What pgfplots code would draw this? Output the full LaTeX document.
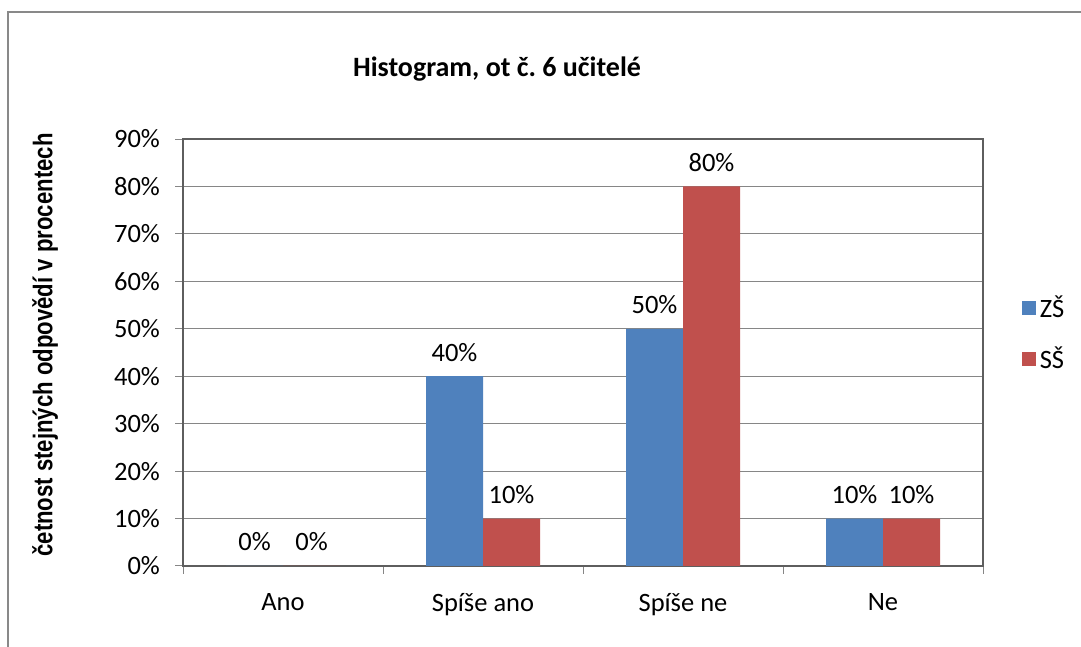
\documentclass[border=0pt]{standalone}
\usepackage{fontspec}
\setmainfont{Carlito}
\newfontfamily\narrowfont[FakeStretch=0.82]{Liberation Sans}
\usepackage{pgfplots}
\pgfplotsset{compat=1.18}
\definecolor{zsblue}{HTML}{4F81BD}
\definecolor{ssred}{HTML}{C0504D}
\definecolor{framegray}{HTML}{898989}
\definecolor{gridgray}{HTML}{868686}
\frenchspacing
\begin{document}
\begin{tikzpicture}
\useasboundingbox (0,0) rectangle (540.5pt,323.5pt);
\draw[framegray, line width=1pt] (4pt,0) -- (4pt,317.5pt) -- (540.5pt,317.5pt);
\node[font=\fontsize{14}{16}\selectfont\bfseries, anchor=base] at (248.5pt,285pt) {Histogram, ot č.\ 6 učitelé};
\node[font=\fontsize{13.5}{15}\selectfont\narrowfont\bfseries, rotate=90] at (22.5pt,151pt) {četnost stejných odpovědí v procentech};
\begin{axis}[
  at={(91.5pt,40.5pt)}, anchor=south west,
  scale only axis, width=400pt, height=213.5pt,
  xmin=-0.5, xmax=3.5, ymin=0, ymax=90,
  ybar=0pt, bar width=28.5pt,
  ytick={0,10,...,90},
  yticklabel={\pgfmathprintnumber{\tick}\%},
  /pgf/number format/assume math mode=true,
  xtick={0,1,2,3},
  xticklabels={Ano, Spíše ano, Spíše ne, Ne},
  minor xtick={-0.5,0.5,1.5,2.5,3.5},
  major x tick style={draw=none},
  xtick pos=bottom, ytick pos=left,
  tick align=outside,
  major tick length=4pt, minor tick length=4pt,
  tick style={gridgray, line width=0.5pt},
  minor x tick style={gridgray, line width=0.5pt},
  ymajorgrids, grid style={gridgray, line width=0.5pt},
  axis line style={gridgray!70!black, line width=0.6pt},
  ticklabel style={font=\fontsize{13.25}{15}\selectfont},
  xticklabel style={yshift=-6pt},
  yticklabel style={xshift=-4pt},
  nodes near coords={\pgfmathprintnumber{\pgfplotspointmeta}\%},
  nodes near coords style={font=\fontsize{13.25}{15}\selectfont, anchor=base, yshift=7.5pt, text=black},
  legend style={at={(1.048,0.5445)}, anchor=west, draw=none, fill=none,
     font=\fontsize{13.25}{15}\selectfont, row sep=9pt, inner sep=0pt},
  legend cell align=left,
  legend image code/.code={\fill[#1] (0pt,-3.5pt) rectangle (7pt,3.5pt);},
]
\addplot[fill=zsblue, draw=none] coordinates {(0,0) (1,40) (2,50) (3,10)};
\addplot[fill=ssred, draw=none] coordinates {(0,0) (1,10) (2,80) (3,10)};
\legend{ZŠ, SŠ}
\end{axis}
\end{tikzpicture}
\end{document}
